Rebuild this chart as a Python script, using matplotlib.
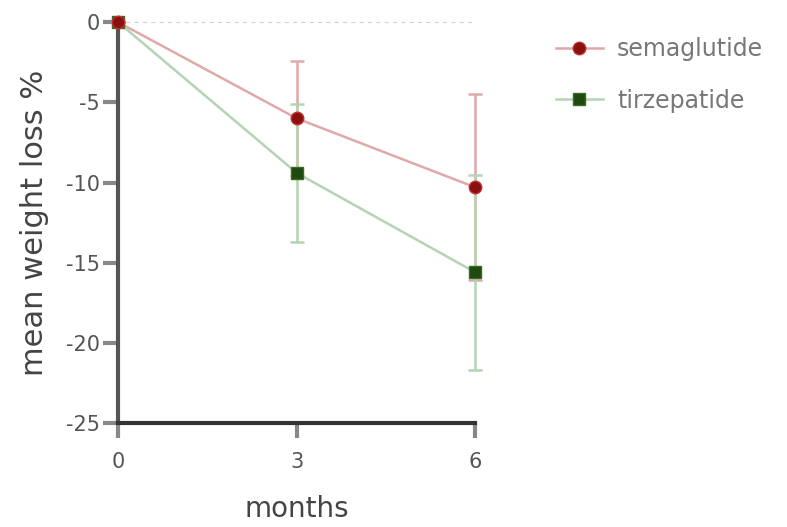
import matplotlib.pyplot as plt

months = [0, 3, 6]
sema_mean = [0, -6.0, -10.3]
sema_sd = [0, 3.6, 5.8]
tirz_mean = [0, -9.4, -15.6]
tirz_sd = [0, 4.3, 6.1]

y_ticks = [0, -5, -10, -15, -20, -25]

fig = plt.figure(figsize=(7.87, 5.27), dpi=100)
ax = fig.add_axes([0.150, 0.197, 0.454, 0.761])

# zero reference line
ax.axhline(0, color="#d0d0d0", linestyle=(0, (2, 2)), linewidth=1.5, zorder=1)

ax.errorbar(months, sema_mean, yerr=sema_sd, color="#e0a8a8", linewidth=1.8,
            elinewidth=1.8, capsize=5, capthick=1.8, zorder=2, clip_on=False)
ax.errorbar(months, tirz_mean, yerr=tirz_sd, color="#b4d4b4", linewidth=1.8,
            elinewidth=1.8, capsize=5, capthick=1.8, zorder=2, clip_on=False)
ax.plot(months, sema_mean, marker="o", markersize=9, color="#e0a8a8",
        markerfacecolor="#8b1010", markeredgecolor="#c03030", linestyle="none",
        zorder=4, clip_on=False)
ax.plot(months, tirz_mean, marker="s", markersize=9, color="#b4d4b4",
        markerfacecolor="#1e4a10", markeredgecolor="#3a6a20", linestyle="none",
        zorder=3, clip_on=False)

# legend handles
ax.plot([], [], color="#e0a8a8", linewidth=1.8, marker="o", markersize=9,
        markerfacecolor="#8b1010", markeredgecolor="#c03030", label="semaglutide")
ax.plot([], [], color="#b4d4b4", linewidth=1.8, marker="s", markersize=9,
        markerfacecolor="#1e4a10", markeredgecolor="#3a6a20", label="tirzepatide")

ax.set_xlim(0, 6)
ax.set_ylim(-25, 0)
ax.set_xticks(months)
ax.set_yticks(y_ticks)
ax.set_yticklabels([str(t) for t in y_ticks])

for side in ["top", "right"]:
    ax.spines[side].set_visible(False)
ax.spines["left"].set_color("#555555")
ax.spines["bottom"].set_color("#333333")
ax.spines["left"].set_linewidth(3)
ax.spines["bottom"].set_linewidth(3)
ax.tick_params(axis="both", width=3, length=11, color="#888888",
               labelsize=15, labelcolor="#555555")
ax.tick_params(axis="x", pad=10)
ax.tick_params(axis="y", pad=2)

ax.set_xlabel("months", fontsize=20, color="#444444", labelpad=16)
ax.set_ylabel("mean weight loss %", fontsize=22, color="#444444", labelpad=12)

ax.legend(loc="upper left", bbox_to_anchor=(1.165, 1.015), frameon=False,
          fontsize=17, labelcolor="#777777", handlelength=2.0,
          handletextpad=0.6, labelspacing=1.15)

fig.savefig("out.png", dpi=100)
